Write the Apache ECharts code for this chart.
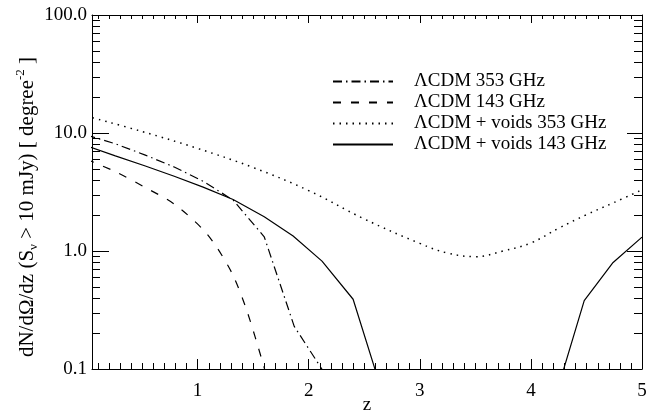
<!DOCTYPE html>
<html>
<head>
<meta charset="utf-8">
<script src="https://cdn.jsdelivr.net/npm/echarts@6/dist/echarts.min.js"></script>
<style>
  html, body { margin: 0; padding: 0; background: #fff; }
  #chart { width: 657px; height: 413px; }
</style>
</head>
<body>
<div id="chart"></div>
<script>
// redshift samples and dN/dOmega/dz values
var zDashDot = [0, 0.26, 0.53, 0.79, 1.05, 1.32, 1.6, 1.87, 2.14];
var vDashDot = [9.6, 8.1, 6.5, 5.15, 3.9, 2.7, 1.32, 0.23, 0.093];

var zDashed = [0, 0.26, 0.53, 0.79, 1.05, 1.18, 1.32, 1.45, 1.61];
var vDashed = [6.0, 4.7, 3.45, 2.5, 1.52, 1.05, 0.62, 0.3, 0.095];

var zDotted = [0, 0.5, 1, 1.5, 2, 2.5, 3, 3.25, 3.5, 3.75, 4, 4.25, 4.5, 4.75, 5];
var vDotted = [13.9, 10.3, 7.4, 5.1, 3.25, 1.87, 1.16, 0.96, 0.895, 1.0, 1.17, 1.56, 2.03, 2.58, 3.3];

var zSolid = [0, 0.26, 0.53, 0.79, 1.05, 1.32, 1.6, 1.86, 2.12, 2.4, 2.65, 4.22, 4.48, 4.74, 5.0];
var vSolid = [7.8, 6.4, 5.25, 4.3, 3.48, 2.73, 1.95, 1.34, 0.82, 0.39, 0.069, 0.058, 0.38, 0.80, 1.31];

var names = ['\u039BCDM 353 GHz', '\u039BCDM 143 GHz', '\u039BCDM + voids 353 GHz', '\u039BCDM + voids 143 GHz'];

// minor tick values
var xMinor = [];
for (var i = 1; i < 50; i++) { if (i % 10 !== 0) xMinor.push(i / 10); }
var yMinor = [];
[0.1, 1, 10].forEach(function (d) { for (var k = 2; k <= 9; k++) yMinor.push(k * d); });

function pairs(zs, vs) {
  return zs.map(function (z, i) { return [z, vs[i]]; });
}

var font = 'Liberation Serif';
var chart = echarts.init(document.getElementById('chart'));

var xBase = {
  type: 'value', min: 0.05, max: 5,
  axisLine: { show: true, lineStyle: { color: '#000', width: 1 } },
  splitLine: { show: false }
};
var yBase = {
  type: 'log', logBase: 10, min: 0.1, max: 100,
  axisLine: { show: true, lineStyle: { color: '#000', width: 1 } },
  splitLine: { show: false }
};

chart.setOption({
  animation: false,
  backgroundColor: '#fff',
  grid: { left: 92, right: 15, top: 15, bottom: 44, outerBoundsMode: 'none', containLabel: false },
  textStyle: { fontFamily: font },
  legend: {
    data: names,
    orient: 'vertical',
    left: 332, top: 71,
    padding: 0,
    itemGap: 0,
    itemWidth: 60, itemHeight: 21,
    selectedMode: false,
    itemStyle: { opacity: 0 },
    textStyle: { fontFamily: font, fontSize: 19, color: '#000', lineHeight: 13, padding: [0, 0, 8, 16] }
  },
  xAxis: [
    Object.assign({}, xBase, {
      position: 'bottom',
      name: 'z', nameLocation: 'middle', nameGap: 27, nameMoveOverlap: false,
      nameTextStyle: { fontFamily: font, fontSize: 19, color: '#000' },
      axisTick: { show: true, inside: true, length: 10, lineStyle: { color: '#000' } },
      axisLabel: { showMinLabel: false, margin: 13, fontFamily: font, fontSize: 19, color: '#000' }
    }),
    Object.assign({}, xBase, {
      position: 'top',
      axisTick: { show: true, inside: true, length: 8, lineStyle: { color: '#000' } },
      axisLabel: { show: false }
    })
  ],
  yAxis: [
    Object.assign({}, yBase, {
      position: 'left',
      name: '{a|dN/d\u03A9/dz (S}{s|\u03BD}{a| > 10 mJy) [ degree}{p|-2}{a| ]}',
      nameLocation: 'middle', nameGap: 52, nameMoveOverlap: false,
      nameTextStyle: {
        padding: [0, 30, 0, 0],
        rich: {
          a: { fontFamily: font, fontSize: 21, lineHeight: 26, color: '#000' },
          s: { fontFamily: font, fontSize: 13, lineHeight: 13, verticalAlign: 'bottom', color: '#000' },
          p: { fontFamily: font, fontSize: 13, lineHeight: 13, verticalAlign: 'top', color: '#000' }
        }
      },
      axisTick: { show: true, inside: true, length: 17, lineStyle: { color: '#000' } },
      axisLabel: {
        margin: 5, fontFamily: font, fontSize: 19, color: '#000',
        formatter: function (v) { return Number(v).toFixed(1); }
      }
    }),
    Object.assign({}, yBase, {
      position: 'right',
      axisTick: { show: true, inside: true, length: 15, lineStyle: { color: '#000' } },
      axisLabel: { show: false }
    })
  ],
  series: [
    {
      name: names[0], type: 'line', symbol: 'none', data: pairs(zDashDot, vDashDot),
      lineStyle: { color: '#000', width: 1.2, type: [9, 4, 1.5, 4] }, itemStyle: { color: '#000' }
    },
    {
      name: names[1], type: 'line', symbol: 'none', smooth: 0.3, data: pairs(zDashed, vDashed),
      lineStyle: { color: '#000', width: 1.2, type: [8, 10] }, itemStyle: { color: '#000' }
    },
    {
      name: names[2], type: 'line', symbol: 'none', smooth: 0.4, data: pairs(zDotted, vDotted),
      lineStyle: { color: '#000', width: 1.5, type: [1.5, 5] }, itemStyle: { color: '#000' }
    },
    {
      name: names[3], type: 'line', symbol: 'none', data: pairs(zSolid, vSolid),
      lineStyle: { color: '#000', width: 1.2, type: 'solid' }, itemStyle: { color: '#000' }
    },
    {
      // minor ticks on all four sides
      type: 'custom', silent: true, clip: false, data: [[1, 1]],
      renderItem: function (params, api) {
        var cs = params.coordSys;
        var kids = [];
        var st = { stroke: '#000', lineWidth: 1 };
        xMinor.forEach(function (v) {
          var x = Math.round(api.coord([v, 1])[0]) + 0.5;
          kids.push({ type: 'line', shape: { x1: x, y1: cs.y + cs.height, x2: x, y2: cs.y + cs.height - 6 }, style: st });
          kids.push({ type: 'line', shape: { x1: x, y1: cs.y, x2: x, y2: cs.y + 4 }, style: st });
        });
        yMinor.forEach(function (v) {
          var y = Math.round(api.coord([1, v])[1]) + 0.5;
          kids.push({ type: 'line', shape: { x1: cs.x, y1: y, x2: cs.x + 8, y2: y }, style: st });
          kids.push({ type: 'line', shape: { x1: cs.x + cs.width, y1: y, x2: cs.x + cs.width - 8, y2: y }, style: st });
        });
        return { type: 'group', children: kids };
      }
    }
  ]
});
</script>
</body>
</html>
